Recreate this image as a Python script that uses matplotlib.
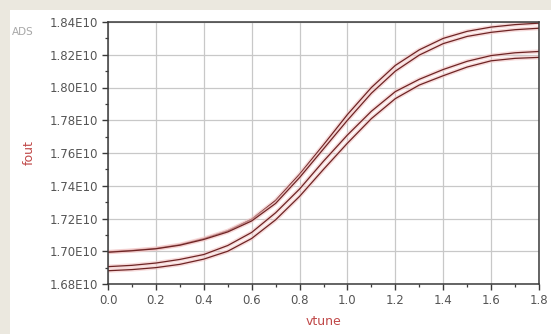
import numpy as np
import matplotlib.pyplot as plt
from matplotlib.ticker import MultipleLocator, FuncFormatter
from matplotlib.patches import Rectangle

# data (fout in units of 1E10)
vtune = [0.0, 0.1, 0.2, 0.3, 0.4, 0.5, 0.6, 0.7, 0.8, 0.9,
         1.0, 1.1, 1.2, 1.3, 1.4, 1.5, 1.6, 1.7, 1.8]
fout_a = [1.6996, 1.7005, 1.7017, 1.7040, 1.7077, 1.7125, 1.7195, 1.7310, 1.7470, 1.7650,
          1.7835, 1.8000, 1.8135, 1.8230, 1.8300, 1.8343, 1.8369, 1.8384, 1.8393]
fout_b = [1.6994, 1.7003, 1.7015, 1.7037, 1.7072, 1.7118, 1.7185, 1.7292, 1.7450, 1.7625,
          1.7800, 1.7965, 1.8100, 1.8198, 1.8268, 1.8312, 1.8337, 1.8353, 1.8362]
fout_c = [1.6906, 1.6914, 1.6928, 1.6950, 1.6980, 1.7035, 1.7115, 1.7235, 1.7380, 1.7550,
          1.7710, 1.7855, 1.7975, 1.8050, 1.8110, 1.8160, 1.8195, 1.8212, 1.8220]
fout_d = [1.6881, 1.6888, 1.6900, 1.6920, 1.6952, 1.7000, 1.7078, 1.7192, 1.7335, 1.7500,
          1.7660, 1.7810, 1.7932, 1.8015, 1.8072, 1.8125, 1.8163, 1.8178, 1.8184]

fig = plt.figure(figsize=(5.51, 3.34), dpi=100)
fig.patch.set_facecolor('#ebe8df')
fig.patches.append(Rectangle((10 / 551, 0), 1, 1 - 10 / 334, transform=fig.transFigure,
                             facecolor='white', edgecolor='none', zorder=-1))

ax = fig.add_axes([108 / 551, 50 / 334, 431 / 551, 262 / 334])

x = np.array(vtune)
for ys in [fout_a, fout_b, fout_c, fout_d]:
    y = np.array(ys) * 1e10
    ax.plot(x, y, color='#f2c4c4', lw=3.0, alpha=0.6, solid_joinstyle='round')
    ax.plot(x, y, color='#6e2424', lw=0.9, solid_joinstyle='round')

ax.set_xlim(0, 1.8)
ax.set_ylim(1.68e10, 1.84e10)
ax.xaxis.set_major_locator(MultipleLocator(0.2))
ax.xaxis.set_minor_locator(MultipleLocator(0.1))
ax.yaxis.set_major_locator(MultipleLocator(0.02e10))
ax.yaxis.set_minor_locator(MultipleLocator(0.01e10))
ax.xaxis.set_major_formatter(FuncFormatter(lambda v, p: f'{v:.1f}'))
ax.yaxis.set_major_formatter(FuncFormatter(lambda v, p: f'{v / 1e10:.2f}E10'))

ax.grid(True, which='major', color='#c8c8c8', lw=0.9)
ax.set_axisbelow(True)
for s in ax.spines.values():
    s.set_color('#3a3a3a')
    s.set_linewidth(1.1)
ax.tick_params(which='major', length=4, width=1, color='#3a3a3a',
               labelsize=8.5, labelcolor='#555555', pad=3)
ax.tick_params(which='minor', length=2.5, width=0.9, color='#3a3a3a')

ax.set_xlabel('vtune', color='#c04848', fontsize=9, labelpad=6)
ax.set_ylabel('fout', color='#c04848', fontsize=9, labelpad=10)
fig.text(12 / 551, 1 - 32 / 334, 'ADS', color='#a8a8a8', fontsize=7.5, va='center')

fig.savefig('out.png', dpi=100, facecolor=fig.get_facecolor())
